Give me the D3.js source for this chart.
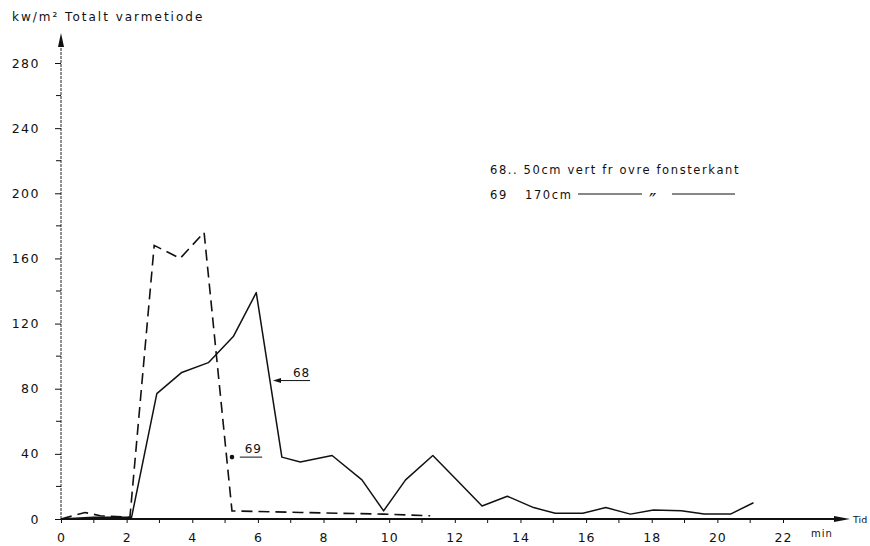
<!DOCTYPE html>
<html>
<head>
<meta charset="utf-8">
<script src="https://cdn.jsdelivr.net/npm/d3@7/dist/d3.min.js"></script>
<style>
  html, body { margin: 0; padding: 0; background: #fff; }
  svg text { font-family: "DejaVu Sans", sans-serif; fill: #111; }
</style>
</head>
<body>
<svg id="chart" width="870" height="546"></svg>
<script>
// Total heat flux over time, two gauge heights (68: 50 cm, 69: 170 cm)
const timeTicks = [0, 2, 4, 6, 8, 10, 12, 14, 16, 18, 20, 22];
const fluxTicks = [0, 40, 80, 120, 160, 200, 240, 280];

const time68 = [0, 1.0, 2.15, 2.92, 3.68, 4.49, 5.25, 5.95, 6.73, 7.29, 8.26, 9.17, 9.83, 10.5, 11.33, 12.06, 12.83, 13.6, 14.4, 15.06, 15.9, 16.6, 17.35, 18.05, 18.9, 19.6, 20.4, 21.1];
const flux68 = [0, 1, 1, 77, 90, 96, 112, 139, 38, 35, 39, 24, 5, 24, 39, 24, 8, 14, 7, 3.5, 3.5, 7, 3, 5.5, 5, 3, 3, 10];

const time69 = [0, 0.73, 1.2, 2.1, 2.84, 3.63, 4.36, 5.21, 7.3, 9.8, 11.25];
const flux69 = [0, 4, 2, 1, 168, 160, 176, 5, 4, 3, 2];

const svg = d3.select("#chart");
const x = d3.scaleLinear().domain([0, 22]).range([61, 783]);
const y = d3.scaleLinear().domain([0, 280]).range([519, 63]);

// axis lines with arrowheads
svg.append("line").attr("x1", x(0)).attr("x2", 840).attr("y1", y(0)).attr("y2", y(0))
  .attr("stroke", "#111").attr("stroke-width", 2);
svg.append("path").attr("d", `M850,${y(0)} L834,${y(0) - 3} L834,${y(0) + 3} Z`).attr("fill", "#111");
svg.append("line").attr("x1", x(0)).attr("x2", x(0)).attr("y1", y(0)).attr("y2", 44)
  .attr("stroke", "#222").attr("stroke-width", 1).attr("stroke-dasharray", "3,1");
svg.append("path").attr("d", `M${x(0)},33 L${x(0) - 3},47 L${x(0) + 3},47 Z`).attr("fill", "#111");

// y axis ticks and labels
const yAxis = d3.axisLeft(y).tickValues(fluxTicks).tickSize(6).tickPadding(15);
const gy = svg.append("g").attr("transform", `translate(${x(0)},0)`).call(yAxis);
gy.select(".domain").remove();
gy.selectAll("text").style("font-size", "12.5px").attr("letter-spacing", "1.5");
gy.selectAll("line").attr("stroke", "#111");
svg.append("g").selectAll("line").data(d3.range(20, 280, 40)).join("line")
  .attr("x1", x(0) - 5).attr("x2", x(0)).attr("y1", d => y(d)).attr("y2", d => y(d))
  .attr("stroke", "#111");

// x axis ticks and labels
const xAxis = d3.axisBottom(x).tickValues(timeTicks).tickSize(4).tickPadding(10);
const gx = svg.append("g").attr("transform", `translate(0,${y(0)})`).call(xAxis);
gx.select(".domain").remove();
gx.selectAll("text").style("font-size", "12.5px").attr("letter-spacing", "1");
gx.selectAll("line").attr("stroke", "#111");
svg.append("g").selectAll("line").data(d3.range(1, 23, 2)).join("line")
  .attr("x1", d => x(d)).attr("x2", d => x(d)).attr("y1", y(0)).attr("y2", y(0) + 4)
  .attr("stroke", "#111");

// axis titles
svg.append("text").attr("x", 12).attr("y", 21).style("font-size", "12px").attr("letter-spacing", "2")
  .text("kw/m² Totalt varmetiode");
svg.append("text").attr("x", 853).attr("y", 523).style("font-size", "9.5px")
  .text("Tid");
svg.append("text").attr("x", 811).attr("y", 537).style("font-size", "10px").attr("letter-spacing", "1")
  .text("min");

// series
const line = d3.line().x(d => x(d[0])).y(d => y(d[1]));
svg.append("path").datum(d3.zip(time68, flux68)).attr("d", line)
  .attr("fill", "none").attr("stroke", "#111").attr("stroke-width", 1.5).attr("stroke-linejoin", "round");
svg.append("path").datum(d3.zip(time69, flux69)).attr("d", line)
  .attr("fill", "none").attr("stroke", "#111").attr("stroke-width", 1.6).attr("stroke-dasharray", "11,6");

// series labels with pointers
const arrowTip = [6.46, 85];
svg.append("line").attr("x1", x(arrowTip[0]) + 4).attr("x2", x(7.59)).attr("y1", y(arrowTip[1])).attr("y2", y(arrowTip[1]))
  .attr("stroke", "#111").attr("stroke-width", 1);
svg.append("path").attr("d", `M${x(arrowTip[0])},${y(arrowTip[1])} l8,-2.5 l0,5 Z`).attr("fill", "#111");
svg.append("text").attr("x", x(7.33)).attr("y", y(arrowTip[1]) - 4).attr("text-anchor", "middle")
  .style("font-size", "12px").attr("letter-spacing", "1").text("68");

const dot69 = [5.21, 38];
svg.append("circle").attr("cx", x(dot69[0])).attr("cy", y(dot69[1])).attr("r", 2.3).attr("fill", "#111");
svg.append("line").attr("x1", x(5.45)).attr("x2", x(6.13)).attr("y1", y(dot69[1])).attr("y2", y(dot69[1]))
  .attr("stroke", "#111").attr("stroke-width", 1);
svg.append("text").attr("x", x(5.86)).attr("y", y(dot69[1]) - 4).attr("text-anchor", "middle")
  .style("font-size", "12px").attr("letter-spacing", "1").text("69");

// legend
const lg = svg.append("g").style("font-size", "11.5px").attr("letter-spacing", "1.6");
lg.append("text").attr("x", 490).attr("y", 174).text("68.. 50cm vert fr ovre fonsterkant");
lg.append("text").attr("x", 490).attr("y", 199).text("69");
lg.append("text").attr("x", 525).attr("y", 199).text("170cm");
lg.append("line").attr("x1", 578).attr("x2", 642).attr("y1", 194).attr("y2", 194).attr("stroke", "#111");
lg.append("text").attr("x", 649).attr("y", 207).style("font-size", "20px").attr("letter-spacing", "0").text("″");
lg.append("line").attr("x1", 672).attr("x2", 735).attr("y1", 194).attr("y2", 194).attr("stroke", "#111");
</script>
</body>
</html>
